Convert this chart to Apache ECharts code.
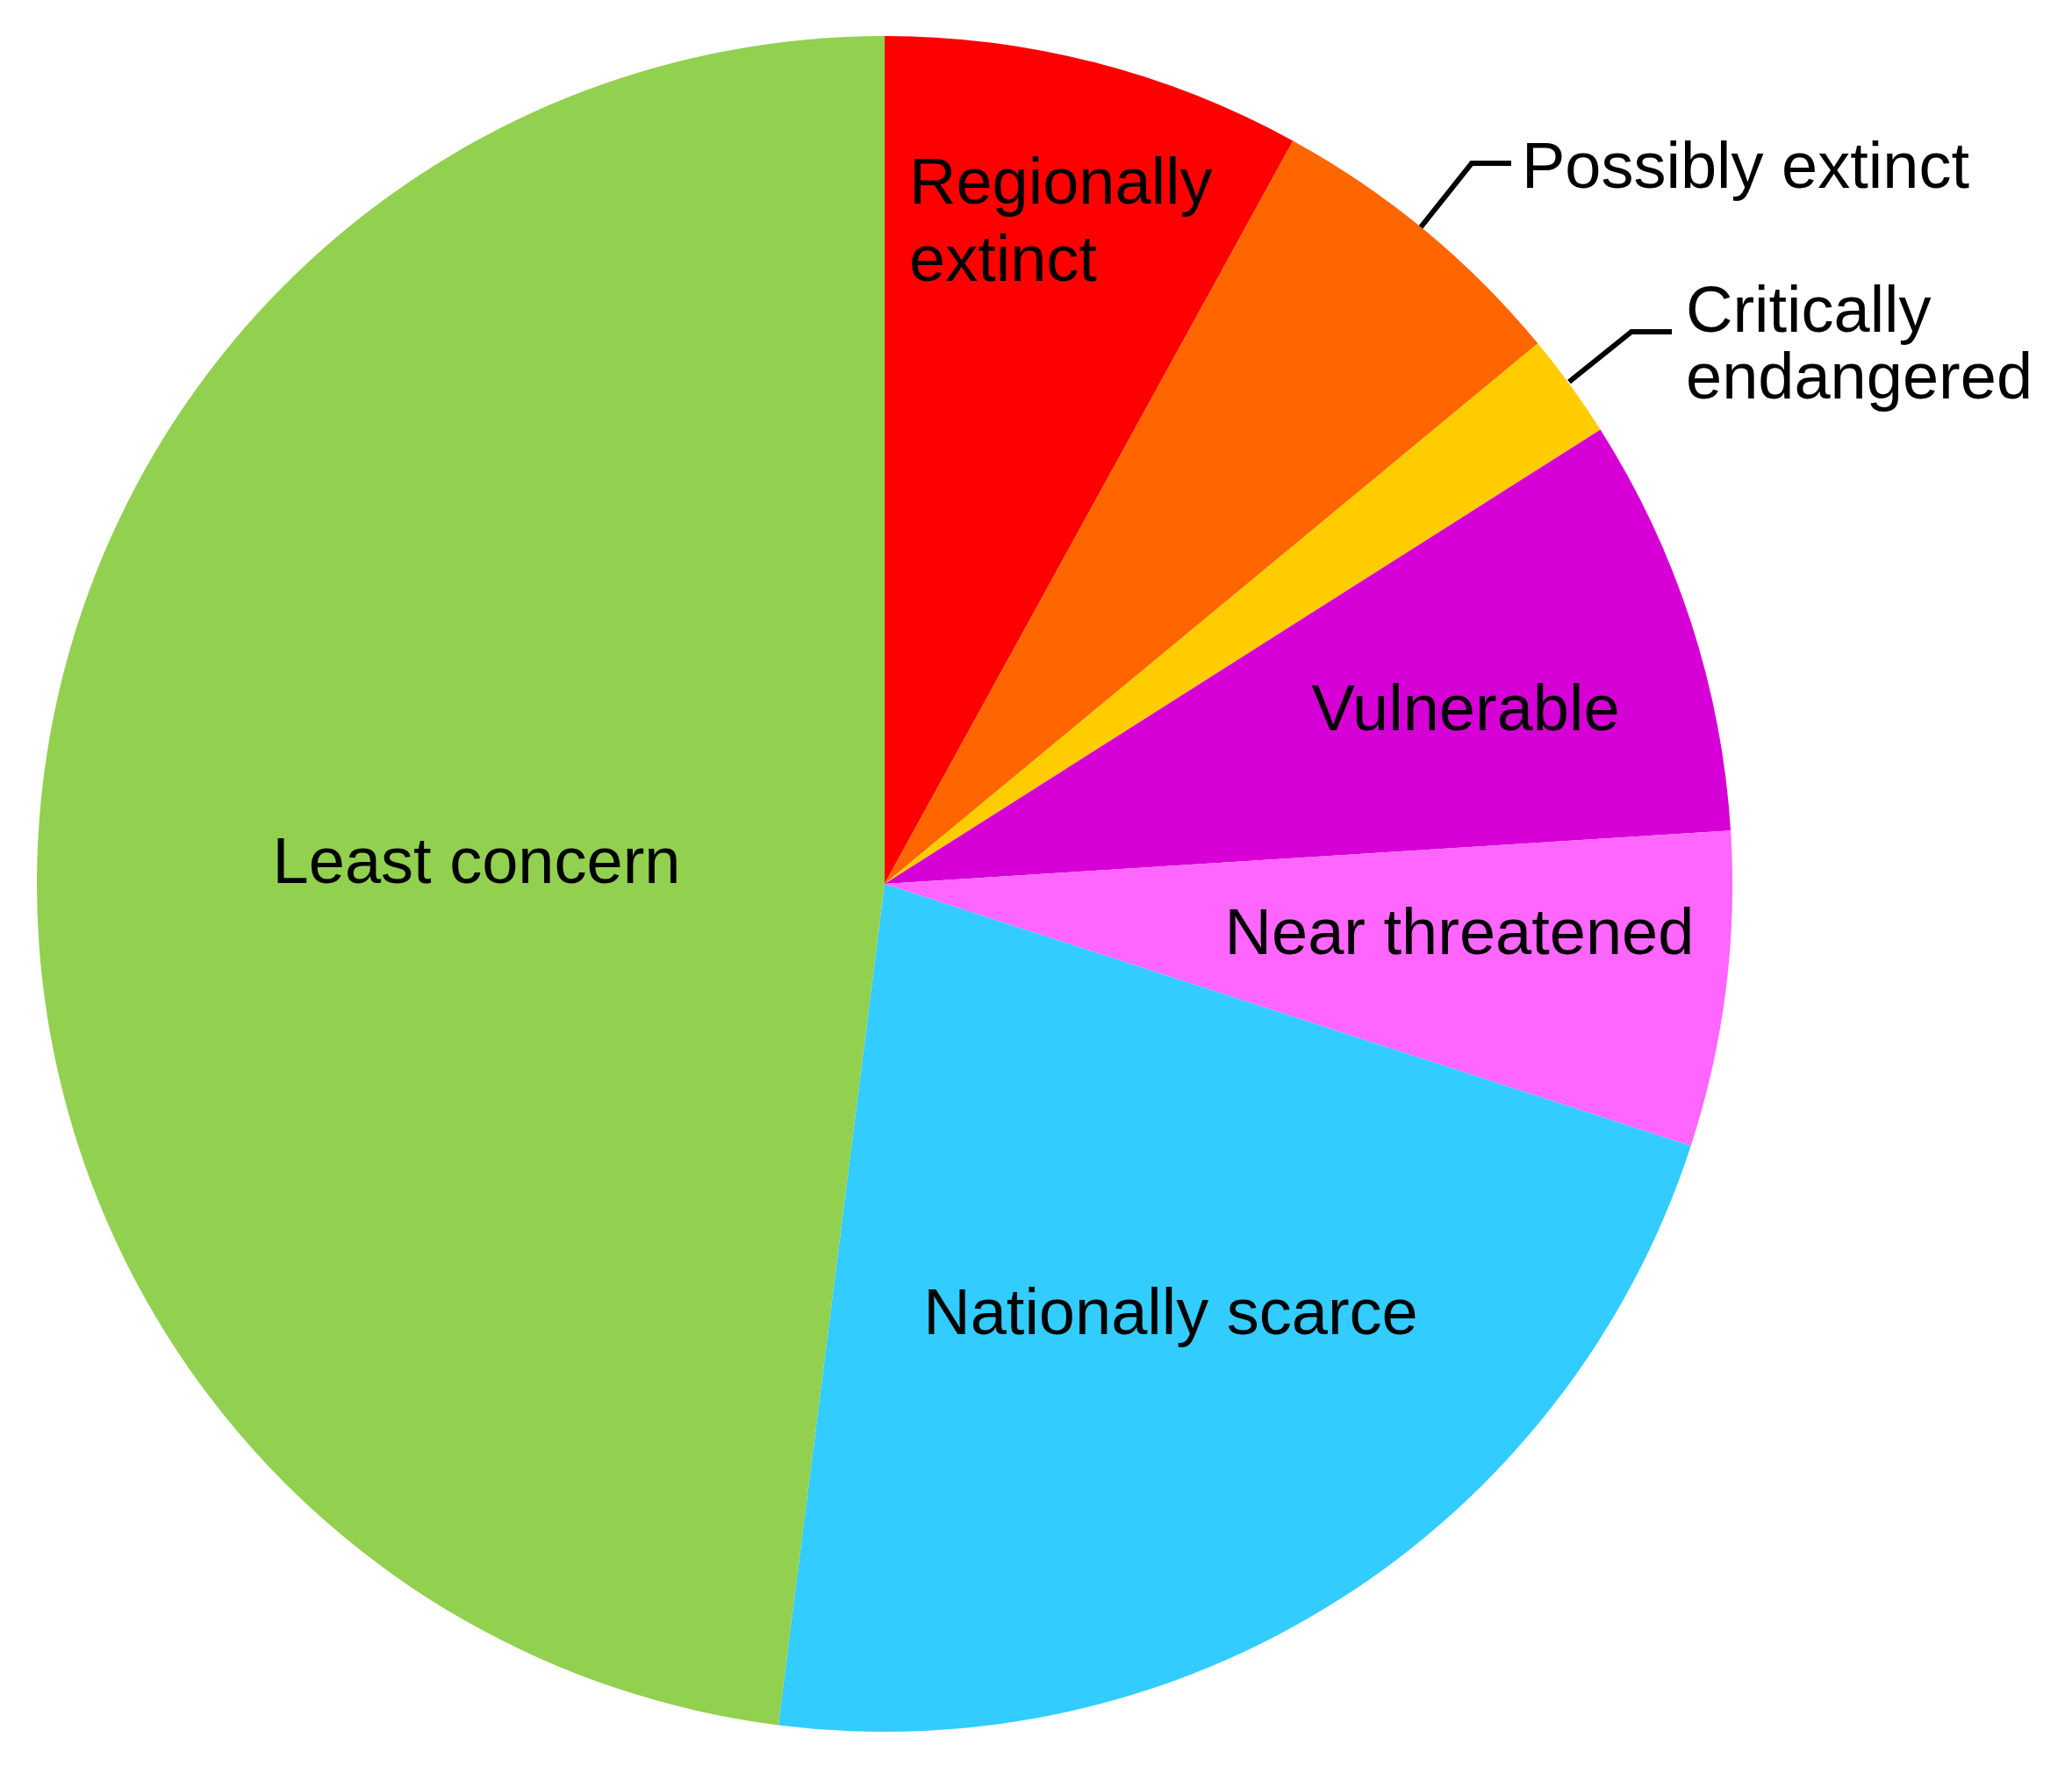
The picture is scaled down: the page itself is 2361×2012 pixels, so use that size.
<!DOCTYPE html>
<html>
<head>
<meta charset="utf-8">
<script src="https://cdn.jsdelivr.net/npm/echarts@6/dist/echarts.min.js"></script>
<style>
html,body{margin:0;padding:0;background:#fff;}
#chart{width:2361px;height:2012px;}
</style>
</head>
<body>
<div id="chart"></div>
<script>
// ---- data ----
const categories = ['Regionally\nextinct', 'Possibly extinct', 'Critically\nendangered', 'Vulnerable', 'Near threatened', 'Nationally scarce', 'Least concern'];
const values = [8, 6, 2, 8, 6, 22, 48];
const colors = ['#FF0000', '#FF6600', '#FFCC00', '#D600D6', '#FF66FF', '#33CCFF', '#92D050'];

// ---- label placement (layout, separate from data) ----
const labelPlacement = [
  {x: 1036, y: 256, align: 'left', lineHeight: 88},
  {x: 1734, y: 194, align: 'left', lineHeight: 88, line: [[1618, 260], [1677, 186], [1722, 186]]},
  {x: 1921, y: 396, align: 'left', lineHeight: 76, line: [[1788, 435], [1859, 378], [1905, 378]]},
  {x: 1670, y: 812, align: 'center', lineHeight: 88},
  {x: 1663, y: 1067, align: 'center', lineHeight: 88},
  {x: 1334, y: 1500, align: 'center', lineHeight: 88},
  {x: 543, y: 986, align: 'center', lineHeight: 88}
];

const chart = echarts.init(document.getElementById('chart'), null, {renderer: 'canvas'});

const data = categories.map((name, i) => {
  const p = labelPlacement[i];
  return {
    name: name,
    value: values[i],
    itemStyle: {color: colors[i]},
    label: {position: p.line ? 'outside' : 'inside', lineHeight: p.lineHeight},
    labelLine: {show: !!p.line}
  };
});

chart.setOption({
  animation: false,
  backgroundColor: '#ffffff',
  series: [{
    type: 'pie',
    center: [1008, 1007],
    radius: [0, 966],
    startAngle: 90,
    clockwise: true,
    avoidLabelOverlap: false,
    silent: true,
    itemStyle: {borderWidth: 0},
    label: {
      show: true,
      formatter: '{b}',
      color: '#000',
      fontFamily: '"Liberation Sans", Arial, sans-serif',
      fontSize: 74
    },
    labelLine: {
      lineStyle: {color: '#000', width: 6, cap: 'butt', join: 'miter'}
    },
    labelLayout: function (params) {
      const p = labelPlacement[params.dataIndex];
      const res = {x: p.x, y: p.y, align: p.align, verticalAlign: 'middle'};
      if (p.line) res.labelLinePoints = p.line;
      return res;
    },
    data: data
  }]
});
</script>
</body>
</html>
